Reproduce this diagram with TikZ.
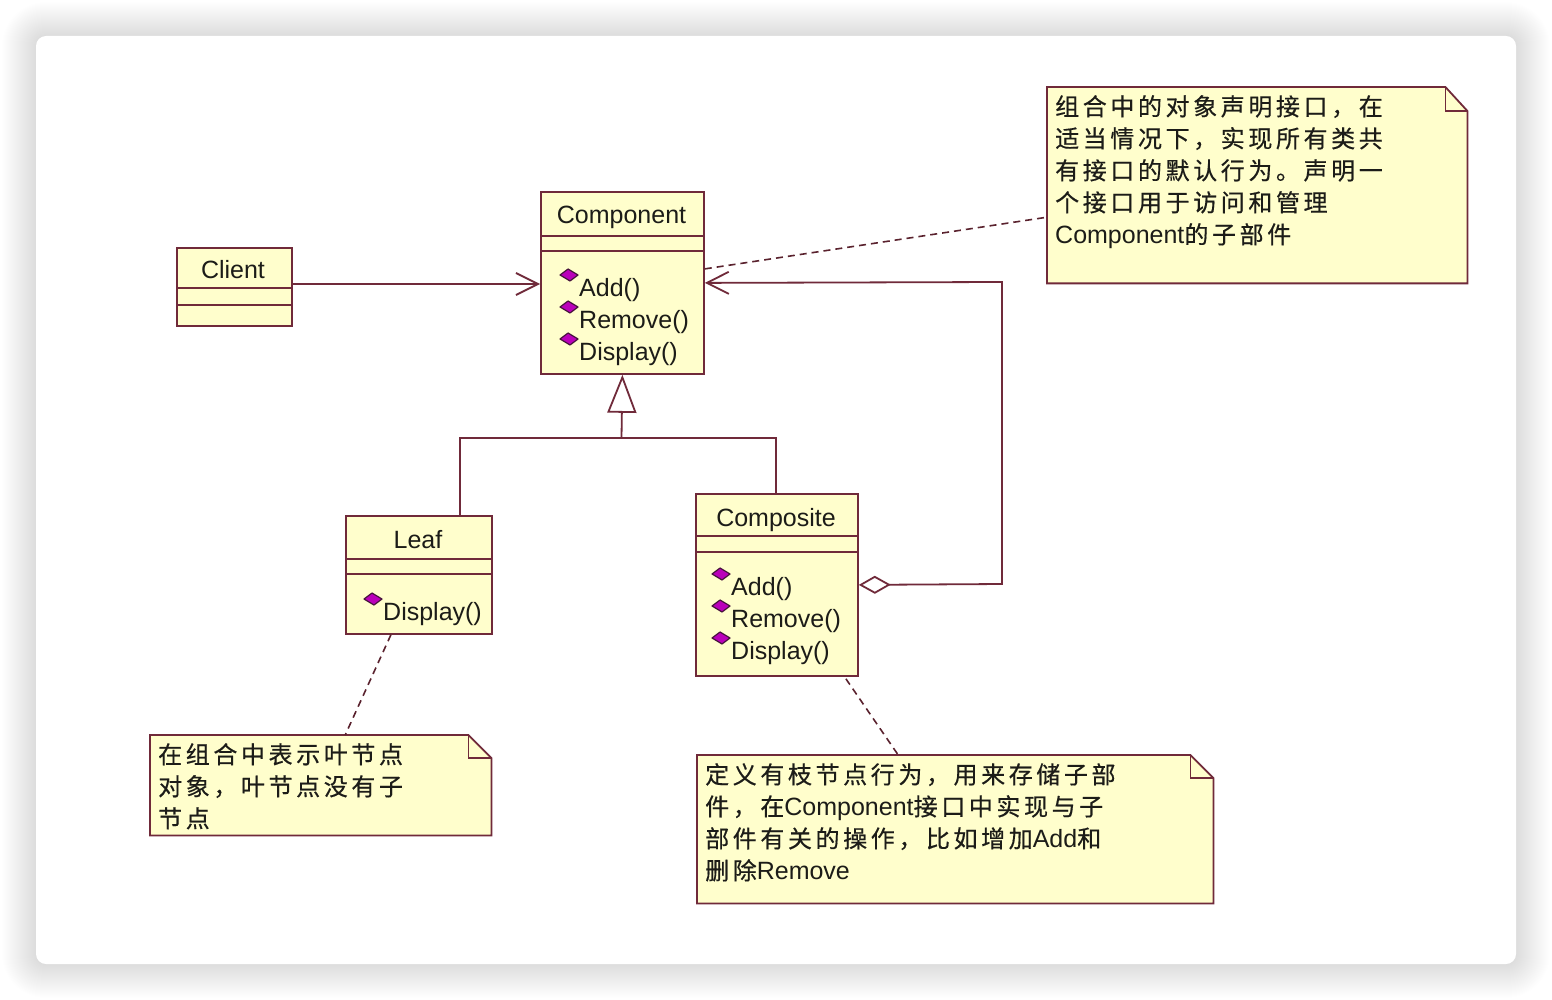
\documentclass[tikz,border=0pt]{standalone}
\usepackage{fontspec}
\setmainfont{Liberation Sans}
\newfontfamily\cjk[LetterSpace=15,FakeBold=0.5]{Noto Sans CJK SC}
\usetikzlibrary{arrows.meta}
\definecolor{umlline}{RGB}{112,42,58}
\definecolor{umlfill}{RGB}{255,254,204}
\definecolor{opfill}{RGB}{186,0,186}
\definecolor{opedge}{RGB}{70,20,60}
\definecolor{txt}{RGB}{28,28,24}
\newcommand\zh[1]{{\cjk\fontsize{24}{32}\selectfont #1}}
\newcommand\umlop[4]{%
  \node[opname] (#1) at (#2,#3) {#4};
  \path[opicon] (#2-10,#3-21) ++(-9,0) -- ++(8,-6) -- ++(10,6) -- ++(-8,6) -- cycle;}
\begin{document}
\begin{tikzpicture}[x=1pt,y=-1pt,
  classbox/.style={draw=umlline, fill=umlfill, line width=1.8pt, inner sep=0pt, anchor=north west},
  sepline/.style={draw=umlline, line width=1.8pt},
  cname/.style={font=\fontsize{25}{30}\selectfont, text=txt, anchor=base, inner sep=0pt},
  opname/.style={font=\fontsize{25}{30}\selectfont, text=txt, anchor=base west, inner sep=0pt},
  opicon/.style={fill=opfill, draw=opedge, line width=1.2pt, line join=round},
  notebox/.style={draw=none, inner sep=0pt, anchor=north west},
  noteline/.style={draw=umlline, fill=umlfill, line width=1.8pt},
  foldline/.style={draw=umlline, line width=1.8pt},
  notetext/.style={font=\fontsize{25}{32}\selectfont, text=txt, anchor=north west, inner sep=0pt, align=left},
  conn/.style={draw=umlline, line width=1.8pt},
  notelink/.style={draw=umlline!80!black, line width=1.6pt, dash pattern=on 7pt off 5pt}
]
\useasboundingbox (0,0) rectangle (1552,1000);
% background with soft shadow
\fill[white] (0,0) rectangle (1552,1000);
\foreach \i in {1,...,34}{
  \fill[black, fill opacity=0.0045, rounded corners=10pt+\i pt] (36-\i,36-\i) rectangle (1516+\i,964+\i);
}
\fill[white, rounded corners=10pt] (36,36) rectangle (1516,964);

% ---- classes ----
\node[classbox, minimum width=115, minimum height=78] (client) at (176,247) {};
\draw[sepline] (client.west |- 0,288) -- (client.east |- 0,288);
\draw[sepline] (client.west |- 0,305) -- (client.east |- 0,305);
\node[cname] (clientname) at (233,279) {Client};

\node[classbox, minimum width=163, minimum height=182] (comp) at (540,191) {};
\draw[sepline] (comp.west |- 0,236) -- (comp.east |- 0,236);
\draw[sepline] (comp.west |- 0,251) -- (comp.east |- 0,251);
\node[cname] (compname) at (621.5,224) {Component};
\umlop{compadd}{579}{296}{Add()}
\umlop{comprem}{579}{328}{Remove()}
\umlop{compdis}{579}{360}{Display()}

\node[classbox, minimum width=146, minimum height=118] (leaf) at (345,515) {};
\draw[sepline] (leaf.west |- 0,559) -- (leaf.east |- 0,559);
\draw[sepline] (leaf.west |- 0,574) -- (leaf.east |- 0,574);
\node[cname] (leafname) at (418,548) {Leaf};
\umlop{leafdis}{383}{620}{Display()}

\node[classbox, minimum width=162, minimum height=182] (composite) at (695,493) {};
\draw[sepline] (composite.west |- 0,536) -- (composite.east |- 0,536);
\draw[sepline] (composite.west |- 0,552) -- (composite.east |- 0,552);
\node[cname] (compositename) at (776,526) {Composite};
\umlop{cpadd}{731}{595}{Add()}
\umlop{cprem}{731}{627}{Remove()}
\umlop{cpdis}{731}{659}{Display()}

% ---- notes ----
\node[notebox, minimum width=420, minimum height=196] (note1) at (1047,87) {};
\draw[noteline] (note1.south west) -- (note1.north west) -- ([xshift=-22pt]note1.north east) -- ([yshift=-24pt]note1.north east) -- (note1.south east) -- cycle;
\draw[foldline] ([xshift=-22pt]note1.north east) |- ([yshift=-24pt]note1.north east);
\node[notetext] (note1text) at (1055,95) {\zh{组合中的对象声明接口，在}\\\zh{适当情况下，实现所有类共}\\\zh{有接口的默认行为。声明一}\\\zh{个接口用于访问和管理}\\Component\zh{的子部件}};

\node[notebox, minimum width=341, minimum height=100] (note2) at (150,735) {};
\draw[noteline] (note2.south west) -- (note2.north west) -- ([xshift=-23pt]note2.north east) -- ([yshift=-23pt]note2.north east) -- (note2.south east) -- cycle;
\draw[foldline] ([xshift=-23pt]note2.north east) |- ([yshift=-23pt]note2.north east);
\node[notetext] (note2text) at (158,743) {\zh{在组合中表示叶节点}\\\zh{对象，叶节点没有子}\\\zh{节点}};

\node[notebox, minimum width=516, minimum height=148] (note3) at (697,755) {};
\draw[noteline] (note3.south west) -- (note3.north west) -- ([xshift=-23pt]note3.north east) -- ([yshift=-23pt]note3.north east) -- (note3.south east) -- cycle;
\draw[foldline] ([xshift=-23pt]note3.north east) |- ([yshift=-23pt]note3.north east);
\node[notetext] (note3text) at (705,763) {\zh{定义有枝节点行为，用来存储子部}\\\zh{件，在}Component\zh{接口中实现与子}\\\zh{部件有关的操作，比如增加}Add\zh{和}\\\zh{删除}Remove};

% ---- connectors ----
\coordinate (cliR) at (291,284);
\draw[conn, -{Straight Barb[length=22pt, width=22pt]}] (client.east |- cliR) -- (comp.west |- cliR);

\coordinate (aggR) at (1002,584);
\coordinate (aggT) at (1002,282);
\draw[conn, {Diamond[open, length=32pt, width=18pt]}-{Straight Barb[length=22pt, width=22pt]}]
  (composite.east) -- (aggR) -- (aggT) -- (comp.east);

\coordinate (jL) at (460,438);
\coordinate (jT) at (621.5,438);
\coordinate (jC) at (776,438);
\draw[conn] (jL |- leaf.north) -- (jL) -- (jC) -- (jC |- composite.north);
\draw[conn, -{Triangle[open, length=38pt, width=29pt]}] (jT) -- (comp.south);

\draw[notelink] ([yshift=14pt]comp.east) -- ([yshift=-32pt]note1.west);
\draw[notelink] ([xshift=-28pt]leaf.south) -- ([xshift=24.5pt]note2.north);
\draw[notelink] ([xshift=69pt,yshift=-2pt]composite.south) -- ([xshift=-57pt]note3.north);
\end{tikzpicture}
\end{document}
